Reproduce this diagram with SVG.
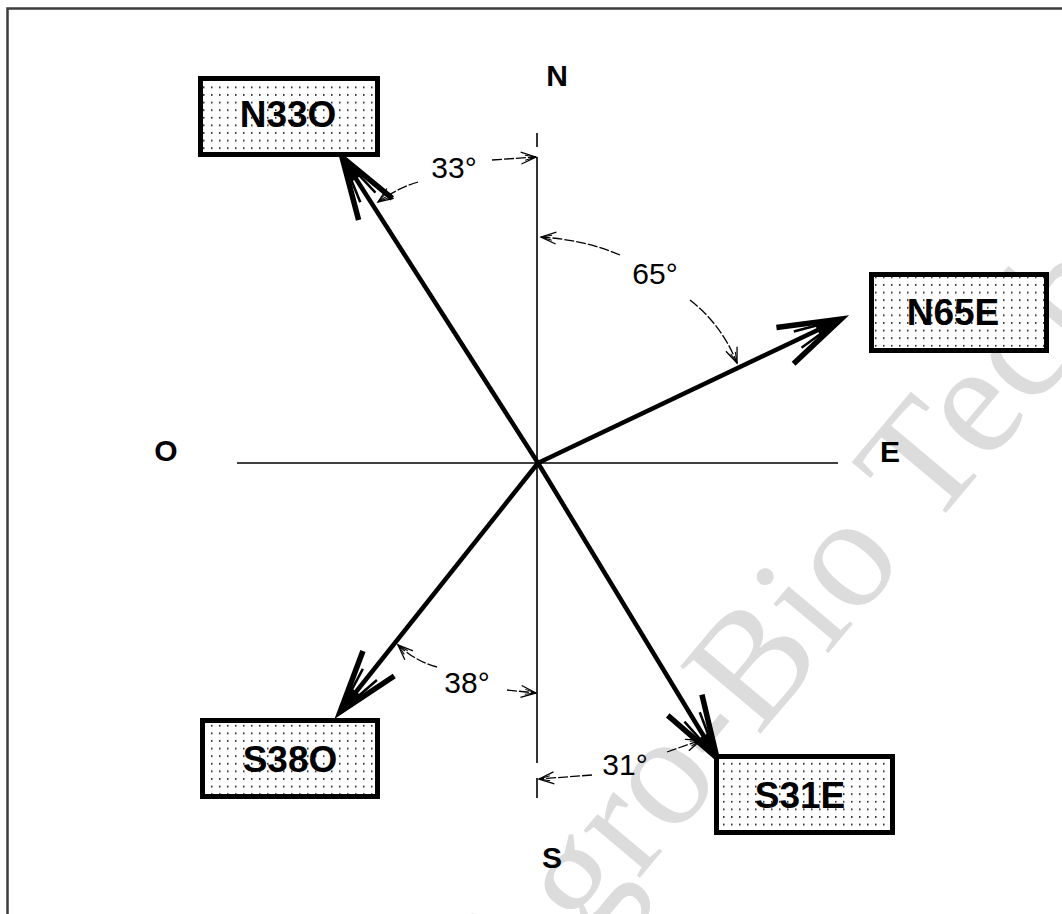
<svg xmlns="http://www.w3.org/2000/svg" width="1062" height="914" viewBox="0 0 1062 914">
<defs>
<style>
.frame{fill:none;stroke:#3c3c3c;stroke-width:2.5}
.axis{stroke:#000;stroke-width:1.6;fill:none}
.vec{stroke:#000;stroke-width:4.5;fill:none}
.dim{stroke:#000;stroke-width:1.3;fill:none;stroke-dasharray:10 2}
.box{fill:url(#dots);stroke:#000;stroke-width:5}
.lbl{font-family:"Liberation Sans",Arial,sans-serif;font-weight:bold;font-size:37px;fill:#000;text-anchor:middle}
.card{font-family:"Liberation Sans",Arial,sans-serif;font-weight:bold;font-size:30px;fill:#000;text-anchor:middle}
.ang{font-family:"Liberation Sans",Arial,sans-serif;font-size:30px;fill:#000;text-anchor:middle}
.wm{font-family:"Liberation Serif","Times New Roman",serif;font-size:160px;fill:#dcdcdc}
</style>
<pattern id="dots" patternUnits="userSpaceOnUse" width="8" height="7.6">
<rect width="8" height="7.6" fill="#fff"/>
<rect x="3" y="3" width="1.5" height="1.5" fill="#000"/>
</pattern>
<marker id="big" markerUnits="userSpaceOnUse" viewBox="-70 -30 80 60" refX="0" refY="0" markerWidth="80" markerHeight="60" orient="auto" overflow="visible">
<path d="M-62,-20 L0,0 L-62,20" fill="none" stroke="#000" stroke-width="5.5" stroke-linejoin="miter"/>
<path d="M-48,-9 L0,0 L-48,9" fill="none" stroke="#000" stroke-width="2.5"/>
<path d="M-26,-5 L0,0 L-26,5 Z" fill="#000"/>
</marker>
<marker id="small" markerUnits="userSpaceOnUse" viewBox="-20 -10 24 20" refX="0" refY="0" markerWidth="24" markerHeight="20" orient="auto" overflow="visible">
<path d="M-15,-6 L0,0 L-15,6" fill="none" stroke="#000" stroke-width="1.3"/>
<path d="M-11,-2.5 L0,0 L-11,2.5" fill="none" stroke="#000" stroke-width="1"/>
</marker>
</defs>
<rect width="1062" height="914" fill="#fff"/>
<text class="wm" transform="translate(512,1030) rotate(-50)">Agro-Bio Tech</text>
<rect class="frame" x="7.5" y="8.5" width="1100" height="1000"/>
<g id="axes">
<line class="axis" x1="537" y1="157" x2="537" y2="763"/>
<line class="axis" x1="537" y1="133" x2="537" y2="147"/>
<line class="axis" x1="537" y1="778" x2="537" y2="798"/>
<line class="axis" x1="237" y1="463" x2="838" y2="463"/>
</g>
<g id="cardinals">
<text class="card" x="557" y="86">N</text>
<text class="card" x="166" y="461">O</text>
<text class="card" x="890" y="462">E</text>
<text class="card" x="552" y="868">S</text>
</g>
<g id="connectors">
<line class="vec" x1="538" y1="463" x2="342" y2="157" marker-end="url(#big)"/>
<line class="vec" x1="538" y1="463" x2="841" y2="319" marker-end="url(#big)"/>
<line class="vec" x1="538" y1="463" x2="340" y2="712" marker-end="url(#big)"/>
<line class="vec" x1="538" y1="463" x2="717" y2="758" marker-end="url(#big)"/>
</g>
<g id="angles">
<path class="dim" d="M418,182 Q398,188 378,202" marker-end="url(#small)"/>
<path class="dim" d="M492,160 L536,157" marker-end="url(#small)"/>
<text class="ang" x="454" y="178">33°</text>
<path class="dim" d="M620,255 Q585,240 541,237" marker-end="url(#small)"/>
<path class="dim" d="M690,300 Q722,325 737,363" marker-end="url(#small)"/>
<text class="ang" x="655" y="284">65°</text>
<path class="dim" d="M437,667 Q415,661 398,645" marker-end="url(#small)"/>
<path class="dim" d="M507,690 L536,693" marker-end="url(#small)"/>
<text class="ang" x="467" y="693">38°</text>
<path class="dim" d="M592,775 L539,779" marker-end="url(#small)"/>
<path class="dim" d="M667,752 L701,740" marker-end="url(#small)"/>
<text class="ang" x="625" y="775">31°</text>
</g>
<g id="n33o">
<rect class="box" x="200.5" y="78.5" width="177" height="76"/>
<text class="lbl" x="288" y="127">N33O</text>
</g>
<g id="n65e">
<rect class="box" x="871.5" y="274.5" width="175" height="76"/>
<text class="lbl" x="953" y="325">N65E</text>
</g>
<g id="s38o">
<rect class="box" x="202.5" y="720.5" width="175" height="76"/>
<text class="lbl" x="290" y="772">S38O</text>
</g>
<g id="s31e">
<rect class="box" x="716.5" y="756.5" width="176" height="76"/>
<text class="lbl" x="800" y="808">S31E</text>
</g>
</svg>
